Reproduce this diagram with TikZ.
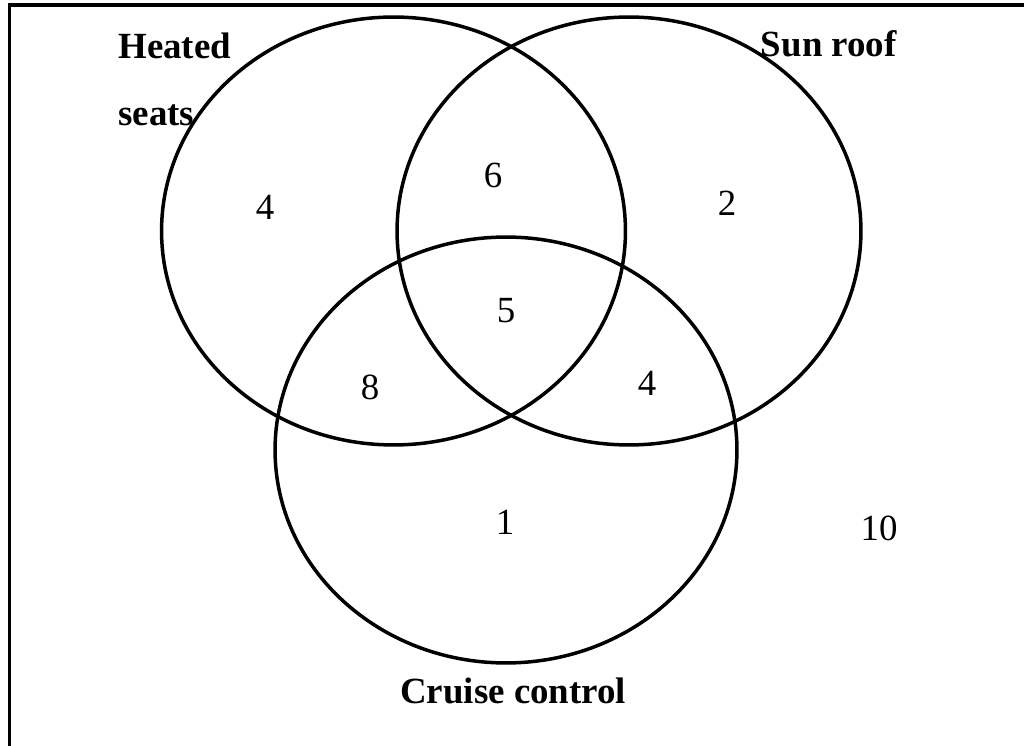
\documentclass[tikz,border=0pt]{standalone}
\usepackage{fontspec}
\setmainfont{Liberation Serif}

\begin{document}
\begin{tikzpicture}[x=0.02cm, y=-0.02cm,
  set/.style={line width=0.07cm},
  lbl/.style={font=\fontsize{21}{25}\selectfont\bfseries, inner sep=0pt},
  num/.style={font=\fontsize{21}{25}\selectfont, inner sep=0pt},
]
\useasboundingbox (0,0) rectangle (1024,746);
\draw[line width=0.08cm] (9.5,5.5) rectangle (1040,760);

% the three sets
\coordinate (hs) at (393.5,231);
\coordinate (sr) at (629,231);
\coordinate (cc) at (506,450);
\draw[set] (hs) ellipse [x radius=4.64cm, y radius=4.28cm];
\draw[set] (sr) ellipse [x radius=4.64cm, y radius=4.28cm];
\draw[set] (cc) ellipse [x radius=4.62cm, y radius=4.26cm];

\node[lbl, anchor=base west] (heated) at (118,59) {Heated};
\node[lbl, anchor=base west] (seats)  at (118,126) {seats};
\node[lbl, anchor=base east] (sun)    at (897,57) {Sun roof};
\node[lbl, anchor=base west] (cruise) at (400,703) {Cruise control};

\node[num] (nh)   at (265,207) {4};
\node[num] (nhs)  at (493,175) {6};
\node[num] (ns)   at (727,203) {2};
\node[num] (nall) at (506,311) {5};
\node[num] (nhc)  at (370,387) {8};
\node[num] (nsc)  at (647,383) {4};
\node[num] (nc)   at (505,522) {1};
\node[num] (nout) at (879,528) {10};
\end{tikzpicture}
\end{document}
